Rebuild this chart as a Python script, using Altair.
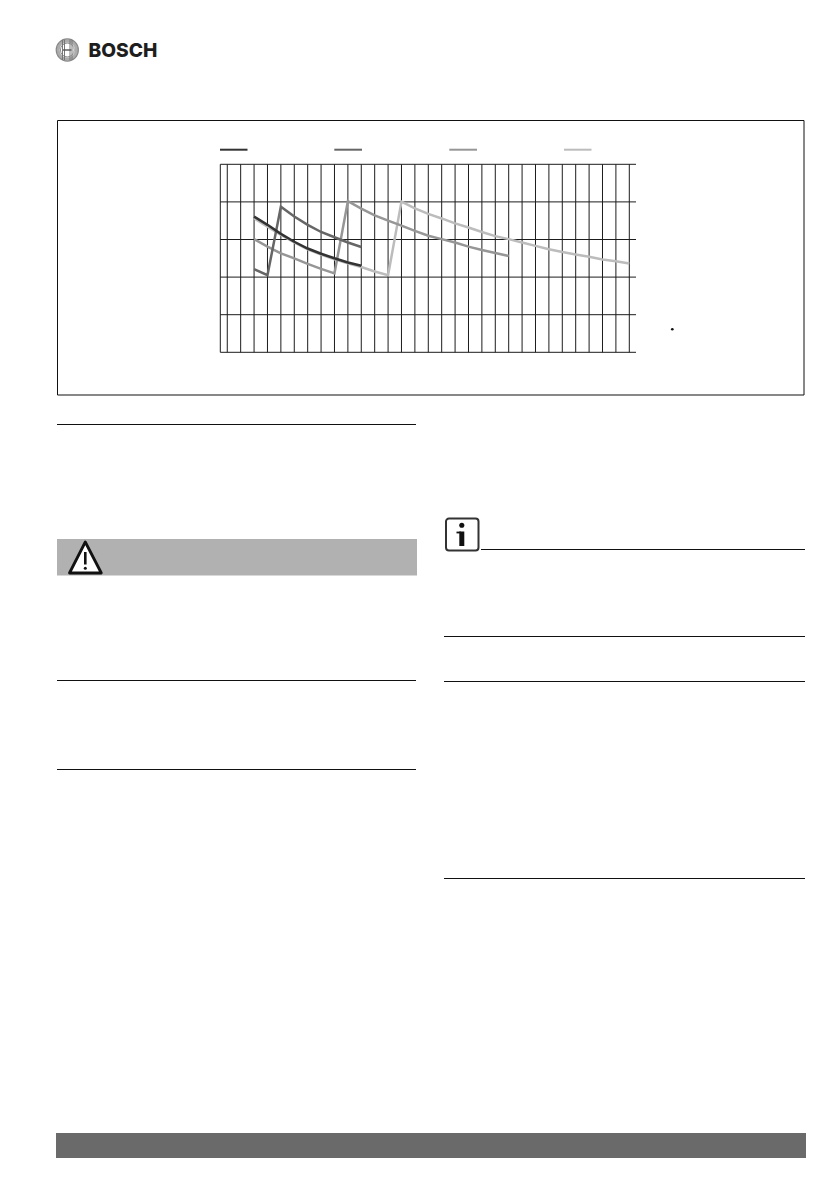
import altair as alt
import pandas as pd

# ---- series values, y in grid units 0..5, x in tick index
s1_k = list(range(2, 11))
s1_y = [3.61, 3.39, 3.15, 2.94, 2.76, 2.62, 2.50, 2.39, 2.30]
s2_k = list(range(2, 11))
s2_y = [2.21, 2.05, 3.87, 3.61, 3.39, 3.20, 3.06, 2.92, 2.80]
s3_k = list(range(2, 22))
s3_y = [3.01, 2.81, 2.63, 2.50, 2.35, 2.22, 2.10, 4.02, 3.82, 3.64, 3.50, 3.37,
        3.23, 3.10, 3.01, 2.92, 2.81, 2.72, 2.64, 2.56]
s4_k = list(range(2, 31))
s4_y = [3.56, 3.34, 3.12, 2.92, 2.74, 2.60, 2.47, 2.37, 2.27, 2.15, 2.05, 4.01,
        3.83, 3.68, 3.56, 3.43, 3.32, 3.20, 3.09, 3.01, 2.92, 2.83, 2.74, 2.67,
        2.60, 2.54, 2.47, 2.42, 2.36]
series_colors = ["#333333", "#666666", "#969696", "#bcbcbc"]

grid_x = list(range(0, 31))
grid_y = [0, 1, 2, 3, 4, 5]
X_MIN, X_MAX = -0.52, 30.5

PAGE_W, PAGE_H = 823, 1174
OFF = 8
page_x = alt.Scale(domain=[OFF, OFF + PAGE_W], range=[0, PAGE_W], nice=False, zero=False)
page_y = alt.Scale(domain=[OFF, OFF + PAGE_H], range=[0, PAGE_H], nice=False, zero=False)
plot_x = alt.Scale(domain=[X_MIN, X_MAX], range=[212.3, 628], nice=False, zero=False)
plot_y = alt.Scale(domain=[0, 5], range=[344.3, 156.3], nice=False, zero=False)


def px(f="x"):
    return alt.X(f + ":Q", scale=page_x, axis=None)


def py(f="y"):
    return alt.Y(f + ":Q", scale=page_y, axis=None)


def rules(rows, color="#111111", width=1.0, cap="butt"):
    df = pd.DataFrame(rows, columns=["x", "x2", "y", "y2"])
    return alt.Chart(df).mark_rule(color=color, strokeWidth=width, strokeCap=cap).encode(
        x=px(), x2="x2:Q", y=py(), y2="y2:Q")


def boxes(rows, **mark):
    df = pd.DataFrame(rows, columns=["x", "x2", "y", "y2"])
    return alt.Chart(df).mark_rect(**mark).encode(x=px(), x2="x2:Q", y=py(), y2="y2:Q")


def dots(rows, **mark):
    df = pd.DataFrame(rows, columns=["x", "y", "s"])
    return alt.Chart(df).mark_point(**mark).encode(
        x=px(), y=py(), size=alt.Size("s:Q", scale=None, legend=None))


layers = []

# page furniture
layers.append(boxes([[57.5, 804, 120.5, 395]], fill="white", stroke="#111111", strokeWidth=1))
layers.append(boxes([[57, 417, 539, 575.5]], fill="#b1b1b1"))
layers.append(boxes([[56, 806, 1133, 1158]], fill="#6a6a6a"))
layers.append(rules([
    [57, 416, 424.5, 424.5], [57, 416, 680.5, 680.5], [57, 416, 769.5, 769.5],
    [481, 805, 549.5, 549.5], [444, 805, 636.5, 636.5], [444, 805, 681.5, 681.5],
    [444, 805, 878.5, 878.5]]))

# logo
layers.append(dots([[67.3, 50, 490]], shape="circle", filled=False, stroke="#555555", strokeWidth=1.2))
layers.append(dots([[67.3, 50, 340]], shape="circle", filled=False, stroke="#8a8a8a", strokeWidth=3.2))
layers.append(dots([[67.3, 50, 190]], shape="circle", filled=False, stroke="#666666", strokeWidth=1))
layers.append(rules([[62.5, 62.5, 40, 60], [64.5, 64.5, 40, 60], [70, 70, 40, 60], [72, 72, 40, 60]],
                    color="#777777", width=1))
layers.append(rules([[63, 71.5, 50, 50]], color="#555555", width=1.4))
layers.append(alt.Chart(pd.DataFrame({"x": [88.5], "y": [50.5], "t": ["BOSCH"]})).mark_text(
    font="Inter", fontWeight=800, fontSize=19.2, align="left", baseline="middle", color="#1e1e1e"
).encode(x=px(), y=py(), text="t:N"))

# warning triangle
tri = pd.DataFrame({"x": [69.5, 85.3, 101.3], "y": [573, 542, 573], "y2": [573, 573, 573]})
layers.append(alt.Chart(tri).mark_area(fill="white", stroke="#111111", strokeWidth=2.8,
                                       strokeJoin="round", orient="vertical").encode(
    x=px(), y=py(), y2="y2:Q"))
layers.append(rules([[85.3, 85.3, 552, 564.5]], color="#111111", width=2.6))
layers.append(dots([[85.3, 568.2, 9]], shape="circle", filled=True, color="#111111", opacity=1))

# info box
layers.append(boxes([[446, 478.5, 518.5, 550.5]], fill="white", stroke="#333333", strokeWidth=2,
                    cornerRadius=3))
layers.append(rules([[461.8, 461.8, 531.5, 546]], color="#111111", width=5))
layers.append(rules([[456.5, 461, 532.5, 532.5]], color="#111111", width=1.8))
layers.append(dots([[461.8, 525.3, 26]], shape="circle", filled=True, color="#111111", opacity=1))

# legend keys and stray mark
key_x = [[220, 247.5], [334.3, 362], [449.3, 477], [564, 591.5]]
for (a, b), c in zip(key_x, series_colors):
    layers.append(rules([[a, b, 149.7, 149.7]], color=c, width=2))
layers.append(dots([[672.3, 329.3, 7]], shape="circle", filled=True, color="#111111", opacity=1))

# grid, through the plot's own scales
gx = pd.DataFrame({"k": grid_x + [X_MIN]})
layers.append(alt.Chart(gx).mark_rule(color="#1c1c1c", strokeWidth=1).encode(
    x=alt.X("k:Q", scale=plot_x, axis=None), y=alt.value(156.3), y2=alt.value(344.3)))
gy = pd.DataFrame({"v": grid_y})
layers.append(alt.Chart(gy).mark_rule(color="#1c1c1c", strokeWidth=1).encode(
    y=alt.Y("v:Q", scale=plot_y, axis=None), x=alt.value(212.3), x2=alt.value(628)))

# curves
for ks, ys, c in [(s4_k, s4_y, series_colors[3]), (s3_k, s3_y, series_colors[2]),
                  (s2_k, s2_y, series_colors[1]), (s1_k, s1_y, series_colors[0])]:
    d = pd.DataFrame({"k": ks, "v": ys})
    layers.append(alt.Chart(d).mark_line(color=c, strokeWidth=2.5, strokeJoin="miter",
                                         interpolate="linear").encode(
        x=alt.X("k:Q", scale=plot_x, axis=None), y=alt.Y("v:Q", scale=plot_y, axis=None)))

chart = alt.layer(*layers).resolve_scale(x="independent", y="independent").properties(
    width=PAGE_W, height=PAGE_H, padding=0, background="white",
    autosize=alt.AutoSizeParams(type="none"),
).configure_view(stroke=None)

chart.save("out.html", embed_options={"renderer": "svg", "actions": False})
